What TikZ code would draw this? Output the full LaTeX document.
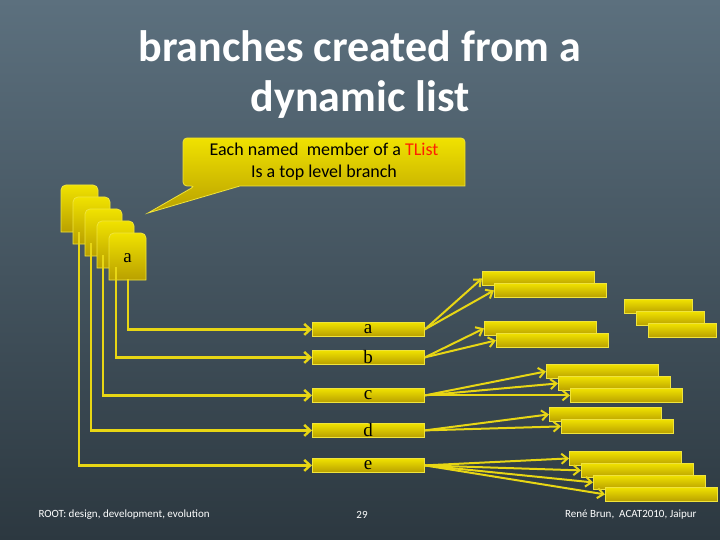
\documentclass[tikz,border=0pt]{standalone}
\usepackage{fontspec}
\setmainfont{Carlito}
\newfontfamily\lmr{Liberation Serif}
\usetikzlibrary{arrows.meta}
\begin{document}
\begin{tikzpicture}[x=1pt,y=-1pt,
  ybox/.style={draw={rgb,255:red,240;green,228;blue,60},line width=0.8pt,top color={rgb,255:red,240;green,226;blue,0},bottom color={rgb,255:red,185;green,160;blue,0},inner sep=0pt,anchor=north west},
  yline/.style={draw={rgb,255:red,232;green,214;blue,20},line width=2.4pt,-{Straight Barb[length=6pt,width=11pt]}},
  yarr/.style={draw={rgb,255:red,232;green,214;blue,20},line width=2pt,-{Straight Barb[length=6pt,width=10pt]}},
  lbl/.style={font=\fontsize{19}{19}\selectfont\lmr}]
\fill[top color={rgb,255:red,92;green,112;blue,126},bottom color={rgb,255:red,44;green,56;blue,64}] (0,0) rectangle (720,540);
\useasboundingbox (0,0) rectangle (720,540);
% title
\node[text=white,font=\bfseries\fontsize{44}{50}\selectfont,align=center] (title) at (360,75) {branches created from a\\dynamic list};
% callout
\fill[top color={rgb,255:red,240;green,226;blue,0},bottom color={rgb,255:red,185;green,160;blue,0},draw={rgb,255:red,240;green,228;blue,60},line width=0.8pt]
  (195,186) -- (148,213) -- (240,186) -- (465,186) [rounded corners=4pt]-- (465,138) -- (183,138) -- (183,186) -- cycle;
\node[font=\fontsize{18}{22}\selectfont,align=center] (call) at (324,162) {Each named\ \ member of a \textcolor{red!75!orange}{TList}\\Is a top level branch};
% left stack
\foreach \i in {0,1,2,3,4}{
  \path[ybox,rounded corners=5pt] ({61+12*\i},{185+12*\i}) [sharp corners] -- ++(0,47) -- ++(37,0) [rounded corners=5pt] -- ++(0,-47) -- cycle;
}
\node[lbl] (la) at (127.5,258) {a};
% middle boxes
\foreach \n/\y in {a/322,b/350,c/388,d/423,e/458}{
  \node[ybox,minimum width=112pt,minimum height=14pt] (m\n) at (312,\y) {};
  \node[lbl] at (368,{\y+7}) {\n};
}
% left connectors
\draw[yline] (128,279) |- (ma.west);
\draw[yline] (116,267) |- (mb.west);
\draw[yline] (103,255) |- (mc.west);
\draw[yline] (91,243) |- (md.west);
\draw[yline] (79,232) |- (me.west);
% right boxes
\newcommand{\rb}[3]{\node[ybox,minimum width=112pt,minimum height=14pt] (#1) at (#2,#3) {};}
\rb{A1}{482}{271}\rb{A2}{494}{283}
\rb{B1}{484}{321}\rb{B2}{496}{333}
\rb{C1}{546}{364}\rb{C2}{558}{376}\rb{C3}{570}{388}
\rb{D1}{549}{407}\rb{D2}{561}{419}
\rb{E1}{569}{451}\rb{E2}{581}{463}\rb{E3}{593}{475}\rb{E4}{605}{487}
\foreach \n/\x/\y in {R1/624/299,R2/636/311,R3/648/323}{
  \node[ybox,minimum width=68pt,minimum height=14pt] (\n) at (\x,\y) {};}
% right arrows
\foreach \s/\t in {ma/A1,ma/A2,mb/B1,mb/B2,mc/C1,mc/C2,mc/C3,md/D1,md/D2,me/E1,me/E2,me/E3,me/E4}
  \draw[yarr] (\s.east) -- (\t.west);
% footer
\node[text=white,font=\fontsize{11}{13}\selectfont,anchor=west] (f1) at (35,515) {ROOT: design, development, evolution};
\node[text=white,font=\fontsize{11}{13}\selectfont] (f2) at (362,515) {29};
\node[text=white,font=\fontsize{11}{13}\selectfont,anchor=east] (f3) at (700,515) {René Brun,\ \ ACAT2010, Jaipur};
\end{tikzpicture}
\end{document}
